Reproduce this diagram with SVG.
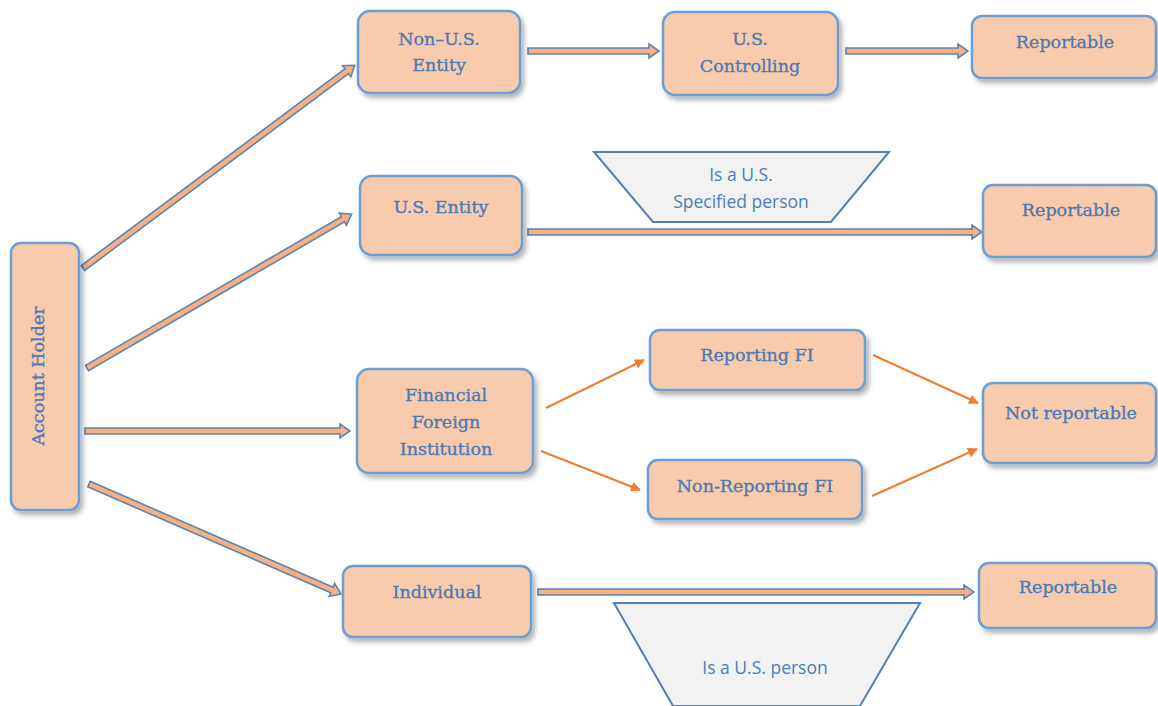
<svg xmlns="http://www.w3.org/2000/svg" width="1158" height="706" viewBox="0 0 1158 706">
<defs>
<filter id="sh" x="-10%" y="-10%" width="130%" height="140%">
<feDropShadow dx="3" dy="4" stdDeviation="2.5" flood-color="#000" flood-opacity="0.3"/>
</filter>
<marker id="oa" viewBox="0 0 10 10" refX="9" refY="5" markerWidth="5" markerHeight="5" orient="auto" markerUnits="strokeWidth">
<path d="M0,0 L10,5 L0,10 Z" fill="#ed7d31"/>
</marker>
</defs>
<style>
.box{fill:#f8cbad;stroke:#6a9fd6;stroke-width:2.5;filter:url(#sh)}
.lbl{font-family:"DejaVu Serif","Liberation Serif",serif;font-size:17.5px;fill:#4c7ab5;stroke:#4c7ab5;stroke-width:0.35;text-anchor:middle}
.trap{fill:#f2f2f2;stroke:#557fb0;stroke-width:2}
.tl{font-family:"Open Sans","Liberation Sans",sans-serif;font-size:17.5px;fill:#4a7ebb;text-anchor:middle}
.ba{fill:#f4b183;stroke:#5b84b1;stroke-width:1.6;stroke-linejoin:miter}
.oa{stroke:#ed7d31;stroke-width:2;fill:none;marker-end:url(#oa)}
</style>
<rect width="1158" height="706" fill="#fff"/>

<g id="connectors">
<g transform="translate(83,268) rotate(-36.73)"><polygon class="ba" points="0,-3 329,-3 329,-7 339,0 329,7 329,3 0,3"/></g>
<g transform="translate(87,368) rotate(-30.16)"><polygon class="ba" points="0,-3 296,-3 296,-7 306,0 296,7 296,3 0,3"/></g>
<g transform="translate(85,431)"><polygon class="ba" points="0,-3 255,-3 255,-7 265,0 255,7 255,3 0,3"/></g>
<g transform="translate(89,484) rotate(23.58)"><polygon class="ba" points="0,-3 265,-3 265,-7 275,0 265,7 265,3 0,3"/></g>
<g transform="translate(528,51)"><polygon class="ba" points="0,-3 121,-3 121,-7 131,0 121,7 121,3 0,3"/></g>
<g transform="translate(846,51)"><polygon class="ba" points="0,-3 112,-3 112,-7 122,0 112,7 112,3 0,3"/></g>
<g transform="translate(528,232)"><polygon class="ba" points="0,-3 444,-3 444,-7 454,0 444,7 444,3 0,3"/></g>
<g transform="translate(538,592)"><polygon class="ba" points="0,-3 426,-3 426,-7 436,0 426,7 426,3 0,3"/></g>
<line class="oa" x1="546" y1="408" x2="644" y2="360"/>
<line class="oa" x1="541" y1="451" x2="640" y2="490"/>
<line class="oa" x1="873" y1="355" x2="978" y2="403"/>
<line class="oa" x1="872" y1="496" x2="977" y2="449"/>
</g>

<g id="account-holder">
<rect class="box" x="11" y="243" width="68" height="267" rx="10"/>
<text class="lbl" font-size="18" transform="translate(44,376) rotate(-90)">Account Holder</text>
</g>

<g id="non-us-entity">
<rect class="box" x="358" y="11" width="162" height="82" rx="12"/>
<text class="lbl" x="439" y="45">Non–U.S.</text>
<text class="lbl" x="439" y="71">Entity</text>
</g>

<g id="us-controlling">
<rect class="box" x="663" y="12" width="175" height="83" rx="12"/>
<text class="lbl" x="750" y="45">U.S.</text>
<text class="lbl" x="750" y="72">Controlling</text>
</g>

<g id="reportable-1">
<rect class="box" x="972" y="16" width="184" height="62" rx="10"/>
<text class="lbl" x="1065" y="48">Reportable</text>
</g>

<g id="us-specified-person">
<polygon class="trap" points="594,152 889,152 831,222 653,222"/>
<text class="tl" x="741" y="181">Is a U.S.</text>
<text class="tl" x="741" y="208">Specified person</text>
</g>

<g id="us-entity">
<rect class="box" x="360" y="176" width="162" height="79" rx="12"/>
<text class="lbl" x="441" y="213">U.S. Entity</text>
</g>

<g id="reportable-2">
<rect class="box" x="983" y="185" width="173" height="72" rx="10"/>
<text class="lbl" x="1071" y="216">Reportable</text>
</g>

<g id="financial-foreign-institution">
<rect class="box" x="357" y="369" width="176" height="104" rx="12"/>
<text class="lbl" x="446" y="401">Financial</text>
<text class="lbl" x="446" y="428">Foreign</text>
<text class="lbl" x="446" y="455">Institution</text>
</g>

<g id="reporting-fi">
<rect class="box" x="650" y="330" width="215" height="60" rx="10"/>
<text class="lbl" x="757" y="361">Reporting FI</text>
</g>

<g id="non-reporting-fi">
<rect class="box" x="648" y="460" width="214" height="59" rx="10"/>
<text class="lbl" x="755" y="492">Non-Reporting FI</text>
</g>

<g id="not-reportable">
<rect class="box" x="983" y="383" width="173" height="80" rx="10"/>
<text class="lbl" x="1071" y="419">Not reportable</text>
</g>

<g id="individual">
<rect class="box" x="343" y="566" width="188" height="71" rx="10"/>
<text class="lbl" x="437" y="598">Individual</text>
</g>

<g id="reportable-3">
<rect class="box" x="979" y="563" width="177" height="65" rx="10"/>
<text class="lbl" x="1068" y="593">Reportable</text>
</g>

<g id="us-person">
<polygon class="trap" points="614,603 920,603 860,706 673,706"/>
<text class="tl" x="765" y="674">Is a U.S. person</text>
</g>
</svg>
